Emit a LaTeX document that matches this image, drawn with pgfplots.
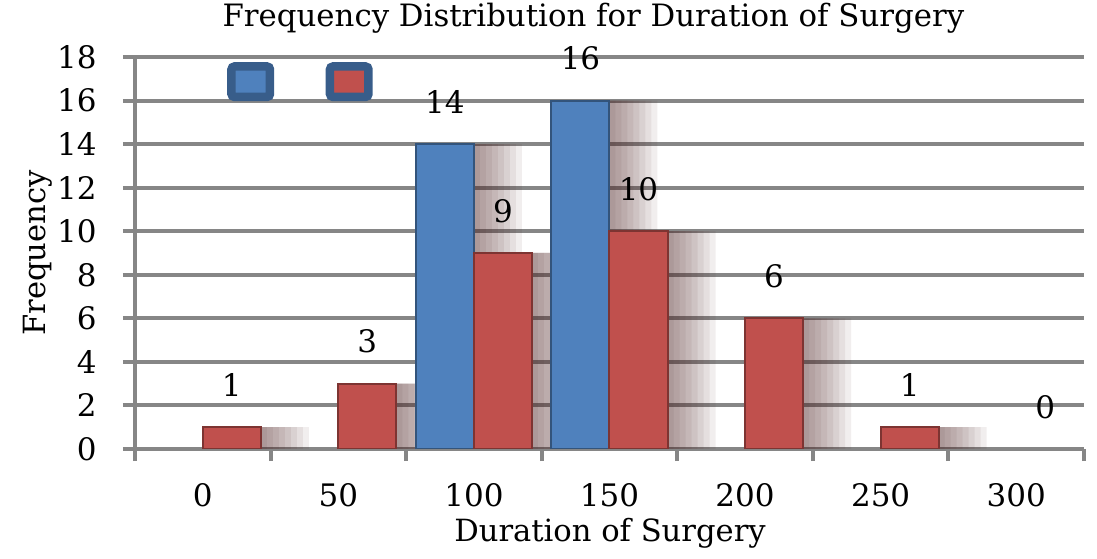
\documentclass[border=0pt]{standalone}
\usepackage{pgfplots}
\pgfplotsset{compat=1.18}
\usepackage{fontspec}
\setmainfont{DejaVu Serif}
\definecolor{barblue}{HTML}{4F81BD}
\definecolor{barred}{HTML}{C0504D}
\definecolor{axgray}{HTML}{868686}
\definecolor{lframe}{HTML}{385D8A}
\definecolor{shadowc}{RGB}{80,40,40}
\newcommand\tickfont{\fontsize{15.5bp}{18bp}\selectfont}
\newcommand\titlefont{\fontsize{15.4bp}{18bp}\selectfont}
\newcommand\labelfont{\fontsize{15.3bp}{18bp}\selectfont}
\newcommand\datafont{\fontsize{15.5bp}{19bp}\selectfont}
\pgfplotstableread{
x y
2 14
3 16
}\blue
\pgfplotstableread{
x y
0 1
1 3
2 9
3 10
4 6
5 1
}\red
\pgfplotstableread{
x y
6 0
}\redzero
\pgfplotsset{
  shadowstyle/.style={forget plot, fill=shadowc, fill opacity=0.08, draw=none},
}
\begin{document}
\begin{tikzpicture}
\path[use as bounding box] (0,0) rectangle (548.5bp,279.5bp);
\begin{axis}[
  at={(67.5bp,55bp)}, anchor=south west,
  scale only axis, width=474.5bp, height=196bp,
  xmin=-0.5, xmax=6.5, ymin=0, ymax=18,
  ybar, bar width=29bp,
  axis lines*=left,
  axis line style={-, line width=2bp, color=axgray},
  ymajorgrids,
  major grid style={line width=2bp, color=axgray},
  ytick={0,2,...,18},
  xtick={0,...,6},
  xticklabels={0,50,100,150,200,250,300},
  minor xtick={-0.5,0.5,...,6.5},
  tick align=outside,
  major tick length=6bp,
  minor tick length=6bp,
  tick style={line width=2bp, color=axgray},
  every major x tick/.append style={draw=none},
  /pgf/number format/assume math mode=true,
  ticklabel style={font=\tickfont, inner sep=0pt, text=black},
  yticklabel shift=13bp,
  xticklabel shift=11bp,
  title={Frequency Distribution for Duration of Surgery},
  xlabel={Duration of Surgery},
  ylabel={Frequency},
  every axis title/.style={at={(axis description cs:0.483,1.079)}, anchor=base, font=\titlefont, inner sep=0pt},
  every axis x label/.style={at={(axis description cs:0.5005,-0.2372)}, anchor=base, font=\labelfont, inner sep=0pt},
  every axis y label/.style={at={(axis description cs:-0.0948,0.5)}, anchor=base, rotate=90, font=\labelfont, inner sep=0pt},
  legend style={at={(axis description cs:0.0972,0.9866)}, anchor=north west, draw=none, fill=none,
    inner sep=0pt, outer sep=0pt, nodes={inner sep=0pt, outer sep=0pt}, column sep=0pt,
    /tikz/every even column/.append style={column sep=24.75bp}},
  legend columns=2,
  nodes near coords style={font=\datafont, inner sep=0pt, anchor=south, yshift=14.75bp, text=black},
]
\addlegendimage{legend image code/.code={\draw[fill=barblue, draw=lframe, line width=4.25bp, rounded corners=1.5bp] (0bp,-7.6bp) rectangle (19.25bp,7.6bp);}}
\addlegendentry{}
\addlegendimage{legend image code/.code={\draw[fill=barred, draw=lframe, line width=4.25bp, rounded corners=1.5bp] (0bp,-7.6bp) rectangle (19.25bp,7.6bp);}}
\addlegendentry{}
% shadows (blue: left edge at -29bp, red: left edge at 0bp)
\addplot[shadowstyle, bar width=32bp, bar shift=-13bp] table {\blue};
\addplot[shadowstyle, bar width=35bp, bar shift=-11.5bp] table {\blue};
\addplot[shadowstyle, bar width=38bp, bar shift=-10bp] table {\blue};
\addplot[shadowstyle, bar width=41bp, bar shift=-8.5bp] table {\blue};
\addplot[shadowstyle, bar width=44bp, bar shift=-7bp] table {\blue};
\addplot[shadowstyle, bar width=47bp, bar shift=-5.5bp] table {\blue};
\addplot[shadowstyle, bar width=50bp, bar shift=-4bp] table {\blue};
\addplot[shadowstyle, bar width=53bp, bar shift=-2.5bp] table {\blue};
\addplot[shadowstyle, bar width=32bp, bar shift=16bp] table {\red};
\addplot[shadowstyle, bar width=35bp, bar shift=17.5bp] table {\red};
\addplot[shadowstyle, bar width=38bp, bar shift=19bp] table {\red};
\addplot[shadowstyle, bar width=41bp, bar shift=20.5bp] table {\red};
\addplot[shadowstyle, bar width=44bp, bar shift=22bp] table {\red};
\addplot[shadowstyle, bar width=47bp, bar shift=23.5bp] table {\red};
\addplot[shadowstyle, bar width=50bp, bar shift=25bp] table {\red};
\addplot[shadowstyle, bar width=53bp, bar shift=26.5bp] table {\red};
% bars
\addplot[forget plot, fill=barblue, draw=barblue!65!black, line width=1bp, bar shift=-14.5bp, nodes near coords] table {\blue};
\addplot[forget plot, fill=barred, draw=barred!65!black, line width=1bp, bar shift=14.5bp, nodes near coords] table {\red};
\addplot[forget plot, fill=none, draw=none, bar shift=14.5bp, nodes near coords] table {\redzero};
\end{axis}
\end{tikzpicture}
\end{document}
